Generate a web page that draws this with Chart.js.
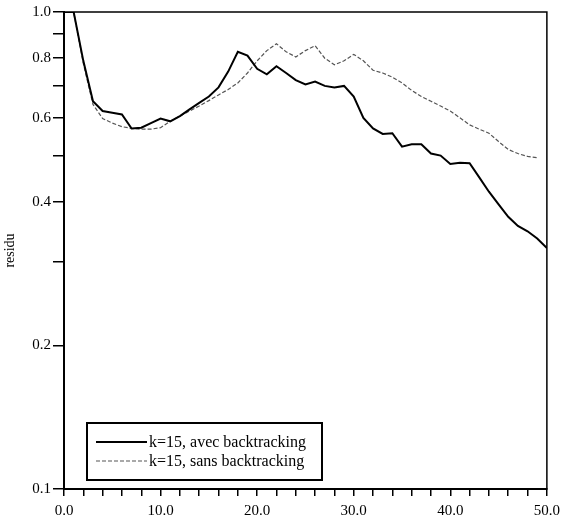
<!DOCTYPE html>
<html>
<head>
<meta charset="utf-8">
<script src="https://cdn.jsdelivr.net/npm/chart.js@4"></script>
<style>
  html, body { margin: 0; padding: 0; background: #fff; }
  #wrap { width: 566px; height: 528px; }
</style>
</head>
<body>
<div id="wrap"><canvas id="chart" width="566" height="528"></canvas></div>
<script>
// --- donnees ---
const iterAvec = [0,1,2,3,4,5,6,7,8,9,10,11,12,13,14,15,16,17,18,19,20,21,22,23,24,25,26,27,28,29,30,31,32,33,34,35,36,37,38,39,40,41,42,43,44,45,46,47,48,49,50];
const residuAvec = [1.0,1.0,0.79,0.65,0.62,0.615,0.61,0.57,0.572,0.585,0.598,0.59,0.605,0.625,0.645,0.665,0.695,0.75,0.825,0.81,0.76,0.74,0.77,0.745,0.72,0.705,0.715,0.70,0.695,0.70,0.665,0.60,0.57,0.555,0.557,0.522,0.528,0.528,0.505,0.50,0.48,0.483,0.482,0.45,0.42,0.395,0.372,0.356,0.347,0.335,0.32];
const iterSans = [0,1,2,3,4,5,6,7,8,9,10,11,12,13,14,15,16,17,18,19,20,21,22,23,24,25,26,27,28,29,30,31,32,33,34,35,36,37,38,39,40,41,42,43,44,45,46,47,48,49];
const residuSans = [1.0,1.0,0.78,0.64,0.598,0.585,0.575,0.57,0.568,0.568,0.572,0.59,0.605,0.62,0.635,0.652,0.67,0.688,0.71,0.745,0.79,0.83,0.858,0.825,0.805,0.83,0.85,0.80,0.775,0.79,0.815,0.79,0.755,0.745,0.73,0.71,0.685,0.665,0.65,0.635,0.62,0.60,0.58,0.568,0.557,0.535,0.515,0.505,0.498,0.495];

const yTicks = [0.1,0.2,0.3,0.4,0.5,0.6,0.7,0.8,0.9,1.0];
const yLabels = { "0.1": "0.1", "0.2": "0.2", "0.4": "0.4", "0.6": "0.6", "0.8": "0.8", "1": "1.0" };
const xTicks = [0,2,4,6,8,10,12,14,16,18,20,22,24,26,28,30,32,34,36,38,40,42,44,46,48,50];
const xLabels = [0,10,20,30,40,50];
const legendLabels = ["k=15, avec backtracking", "k=15, sans backtracking"];

const police = "'Liberation Serif', 'DejaVu Serif', serif";

const toPoints = (xs, ys) => xs.map((x, i) => ({ x: x, y: ys[i] }));

// cadre autour de la zone de trace
const cadre = {
    id: "cadre",
    afterDatasetsDraw(chart) {
        const { ctx, chartArea: a } = chart;
        ctx.save();
        ctx.strokeStyle = "#000";
        ctx.lineWidth = 1.5;
        ctx.strokeRect(a.left, a.top, a.right - a.left, a.bottom - a.top);
        ctx.restore();
    }
};

// legende dans la zone de trace, en bas a gauche
const legendeInterne = {
    id: "legendeInterne",
    afterDraw(chart) {
        const { ctx } = chart;
        const x0 = 87, y0 = 423, w = 235, h = 57;
        ctx.save();
        ctx.fillStyle = "#fff";
        ctx.fillRect(x0, y0, w, h);
        ctx.strokeStyle = "#000";
        ctx.lineWidth = 2;
        ctx.strokeRect(x0, y0, w, h);
        ctx.font = "16px " + police;
        ctx.textBaseline = "middle";
        chart.data.datasets.forEach((ds, i) => {
            const y = y0 + 19 + i * 19;
            ctx.beginPath();
            ctx.strokeStyle = ds.borderColor;
            ctx.lineWidth = ds.borderWidth;
            ctx.setLineDash(ds.borderDash || []);
            ctx.moveTo(x0 + 9, y);
            ctx.lineTo(x0 + 60, y);
            ctx.stroke();
            ctx.setLineDash([]);
            ctx.fillStyle = "#000";
            ctx.fillText(ds.label, x0 + 62, y + 1);
        });
        ctx.restore();
    }
};

new Chart(document.getElementById("chart"), {
    type: "line",
    data: {
        datasets: [
            {
                label: legendLabels[0],
                data: toPoints(iterAvec, residuAvec),
                borderColor: "#000",
                borderWidth: 2,
                pointRadius: 0,
                tension: 0
            },
            {
                label: legendLabels[1],
                data: toPoints(iterSans, residuSans),
                borderColor: "#555",
                borderWidth: 1.2,
                borderDash: [4, 2],
                pointRadius: 0,
                tension: 0
            }
        ]
    },
    options: {
        responsive: false,
        animation: false,
        layout: { padding: { top: 12, right: 18, left: 0, bottom: 0 } },
        plugins: {
            legend: { display: false },
            tooltip: { enabled: false }
        },
        scales: {
            x: {
                type: "linear",
                min: 0,
                max: 50,
                afterBuildTicks: (s) => { s.ticks = xTicks.map(v => ({ value: v })); },
                afterFit: (s) => { s.height = 39; },
                ticks: {
                    autoSkip: false,
                    maxRotation: 0,
                    color: "#000",
                    padding: 6,
                    font: { family: police, size: 15 },
                    callback: (v) => xLabels.includes(v) ? v.toFixed(1) : ""
                },
                grid: { drawOnChartArea: false, drawTicks: true, tickLength: 7, color: "#000", lineWidth: 1.5 },
                border: { display: true, color: "#000", width: 2 }
            },
            y: {
                type: "logarithmic",
                min: 0.1,
                max: 1.0,
                afterBuildTicks: (s) => { s.ticks = yTicks.map(v => ({ value: v })); },
                afterFit: (s) => { s.width = 64; },
                title: {
                    display: true,
                    text: "residu",
                    color: "#000",
                    font: { family: police, size: 14 },
                    padding: { top: 2, bottom: 0 }
                },
                ticks: {
                    autoSkip: false,
                    color: "#000",
                    padding: 2,
                    font: { family: police, size: 15 },
                    callback: (v) => yLabels[String(Math.round(v * 10) / 10)] || ""
                },
                grid: { drawOnChartArea: false, drawTicks: true, tickLength: 11, color: "#000", lineWidth: 1.5 },
                border: { display: true, color: "#000", width: 2 }
            }
        }
    },
    plugins: [cadre, legendeInterne]
});
</script>
</body>
</html>
